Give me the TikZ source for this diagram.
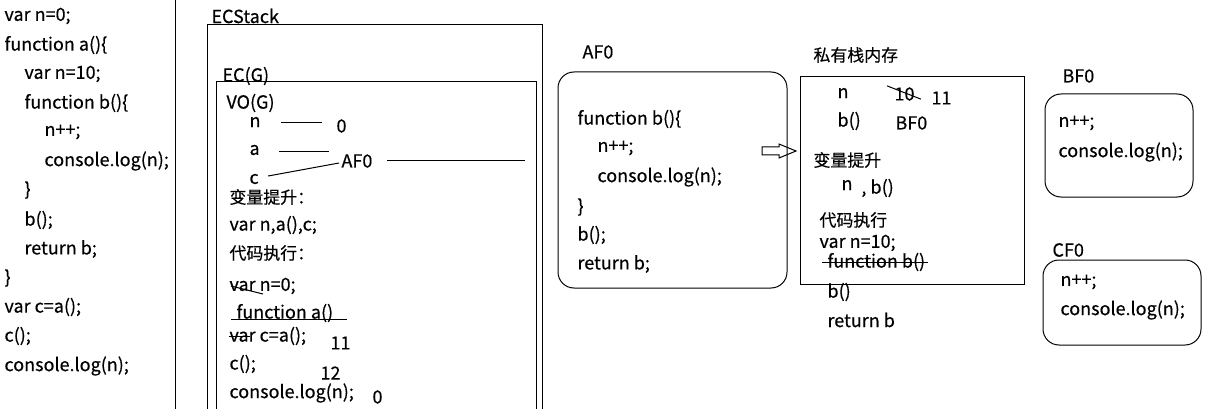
\documentclass[tikz,border=0pt]{standalone}
\usepackage{fontspec}
\setmainfont[FakeBold=0.4]{Noto Sans CJK SC}
\newfontfamily\cjk[Scale=0.94, FakeBold=0.4]{Noto Sans CJK SC}

\begin{document}
\begin{tikzpicture}[x=1pt, y=-1pt, line width=1pt,
    every node/.style={anchor=west, inner sep=0pt, font=\fontsize{18}{20}\selectfont},
    codebox/.style={rounded corners=16pt}]
      \useasboundingbox (0,0) rectangle (1205,409);
      \node (l1) at (4, 16) {var n=0;};
      \node (l2) at (4, 45) {function a()\{};
      \node (l3) at (24, 74) {var n=10;};
      \node (l4) at (24, 103) {function b()\{};
      \node (l5) at (44, 132) {n++;};
      \node (l6) at (44, 161) {console.log(n);};
      \node (l7) at (24, 190) {\}};
      \node (l8) at (24, 220) {b();};
      \node (l9) at (24, 249) {return b;};
      \node (l10) at (4, 278) {\}};
      \node (l11) at (4, 307) {var c=a();};
      \node (l12) at (4, 336) {c();};
      \node (l13) at (4, 366) {console.log(n);};
      \draw (175, 0) -- (175, 409);
      \node (ecs) at (211, 16) {ECStack};
      \draw (207, 409) -- (207, 25) -- (542, 25) -- (542, 409);
      \node (ecg) at (222, 76) {EC(G)};
      \draw (216, 409) -- (216, 82) -- (536, 82) -- (536, 409);
      \node (vo) at (226, 103) {VO(G)};
      \node (vn) at (249, 122) {n};
      \node (v0) at (336, 126) {0};
      \node (va) at (249, 150) {a};
      \node (af) at (341, 161) {AF0};
      \node (vc) at (249, 179) {c};
      \coordinate (afend) at (525, 161);
      \draw ([xshift=20pt, yshift=-1pt]vn.east) -- ([xshift=-14pt, yshift=3pt]v0.west);
      \draw ([xshift=19pt, yshift=-2pt]va.east) -- ++(50, 0);
      \draw ([xshift=9pt, yshift=3pt]vc.east) -- ([xshift=-2pt, yshift=-2pt]af.west);
      \draw ([xshift=14pt]af.east) -- (afend);
      \node (g1) at (229, 197) {\cjk 变量提升：};
      \node (g2) at (229, 225) {var n,a(),c;};
      \node (g3) at (229, 253) {\cjk 代码执行：};
      \node (g4) at (229, 286) {var n=0;};
      \node (g5) at (236, 313) {function a()};
      \node (g6) at (229, 336) {var c=a();};
      \node (g7) at (229, 364) {c();};
      \node (g8) at (229, 393) {console.log(n);};
      \node (r11) at (330, 343) {11};
      \node (r12) at (320, 373) {12};
      \node (r0) at (372, 397) {0};
      \draw ([xshift=2pt]g4.west) -- ([xshift=34pt, yshift=-8pt]g4.west);
      \draw ([xshift=-5pt, yshift=-6pt]g5.west) -- ([xshift=13pt, yshift=-6pt]g5.east);
      \draw (g6.west) -- ([xshift=21pt]g6.west);
      \node (afl) at (582, 52) {AF0};
      \draw[codebox] (558, 72) rectangle (787, 288);
      \node (a1) at (577, 119) {function b()\{};
      \node (a2) at (597, 148) {n++;};
      \node (a3) at (597, 177) {console.log(n);};
      \node (a4) at (577, 207) {\}};
      \node (a5) at (577, 235) {b();};
      \node (a6) at (577, 264) {return b;};
      \draw (762, 147) -- (779, 147) -- (779, 144) -- (796, 151) -- (779, 158) -- (779, 155) -- (762, 155) -- cycle;
      \node (pl) at (813, 55) {\cjk 私有栈内存};
      \draw (800, 77) rectangle (1024, 284);
      \node (pn) at (837, 93) {n};
      \node (p10) at (894, 94) {10};
      \node (p11) at (931, 98) {11};
      \node (pb) at (837, 121) {b()};
      \node (pbf) at (895, 123) {BF0};
      \draw ([xshift=-7pt, yshift=1pt]p10.north west) -- ([xshift=6pt, yshift=2pt]p10.south east);
      \node (p1) at (813, 160) {\cjk 变量提升};
      \node (p2) at (841, 185) {n};
      \node (p3) at (861, 188) {, b()};
      \node (p4) at (819, 220) {\cjk 代码执行};
      \node (p5) at (819, 243) {var n=10;};
      \node (p6) at (827, 262) {function b()};
      \draw ([xshift=-5pt]p6.west) -- ([xshift=2pt]p6.east);
      \node (p7) at (827, 292) {b()};
      \node (p8) at (827, 320) {return b};
      \node (bfl) at (1062, 76) {BF0};
      \draw[codebox] (1045, 94) rectangle (1193, 197);
      \node (b1) at (1058, 123) {n++;};
      \node (b2) at (1058, 152) {console.log(n);};
      \node (cfl) at (1052, 250) {CF0};
      \draw[codebox] (1043, 260) rectangle (1201, 345);
      \node (c1) at (1060, 282) {n++;};
      \node (c2) at (1060, 310) {console.log(n);};
    \end{tikzpicture}
\end{document}
